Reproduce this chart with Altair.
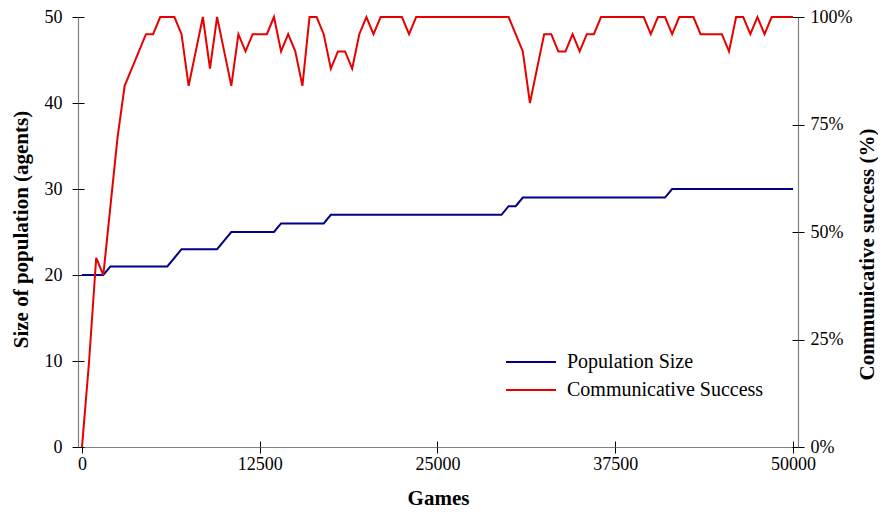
import altair as alt
import pandas as pd

# Games sampled every 500 games
games = list(range(0, 50001, 500))

population = (
    [20, 20, 20, 20]
    + [21, 21, 21, 21, 21, 21, 21, 21, 21]
    + [22]
    + [23, 23, 23, 23, 23, 23]
    + [24]
    + [25, 25, 25, 25, 25, 25, 25]
    + [26, 26, 26, 26, 26, 26, 26]
    + [27] * 25
    + [28, 28]
    + [29] * 21
    + [30] * 18
)

success = [
    0, 20, 44, 40, 56, 72, 84, 88, 92, 96,
    96, 100, 100, 100, 96, 84, 92, 100, 88, 100,
    92, 84, 96, 92, 96, 96, 96, 100, 92, 96,
    92, 84, 100, 100, 96, 88, 92, 92, 88, 96,
    100, 96, 100, 100, 100, 100, 96, 100, 100, 100,
    100, 100, 100, 100, 100, 100, 100, 100, 100, 100,
    100, 96, 92, 80, 88, 96, 96, 92, 92, 96,
    92, 96, 96, 100, 100, 100, 100, 100, 100, 100,
    96, 100, 100, 96, 100, 100, 100, 96, 96, 96,
    96, 92, 100, 100, 96, 100, 96, 100, 100, 100,
    100,
]

series_names = ["Population Size", "Communicative Success"]
series_colors = ["#000088", "#e60000"]
x_ticks = [0, 12500, 25000, 37500, 50000]
pop_ticks = [0, 10, 20, 30, 40, 50]
succ_ticks = [0, 25, 50, 75, 100]

df = pd.DataFrame({"games": games, "population": population, "success": success})

FONT = "Liberation Serif"

xscale = alt.Scale(domain=[-281, 50352], nice=False, zero=False)
pop_scale = alt.Scale(domain=[0, 50], nice=False, zero=True)
succ_scale = alt.Scale(domain=[0, 100], nice=False, zero=True)
color_scale = alt.Scale(domain=series_names, range=series_colors)

legend = alt.Legend(
    title=None, orient="none", legendX=427, legendY=331,
    symbolType="stroke", symbolSize=2500, symbolStrokeWidth=2,
    labelFont=FONT, labelFontSize=20, labelOffset=10, labelColor="black",
    clipHeight=28, rowPadding=0, padding=0, labelLimit=400,
)

base = alt.Chart(df)

pop_line = base.transform_calculate(series="'Population Size'").mark_line(
    strokeWidth=2
).encode(
    x=alt.X("games:Q", scale=xscale, axis=alt.Axis(
        orient="bottom", values=x_ticks, format="d", title="Games",
        tickSize=6, labelPadding=2, titleY=40, labelFlush=False, labelOverlap=False,
    )),
    y=alt.Y("population:Q", scale=pop_scale, axis=alt.Axis(
        orient="left", values=pop_ticks, title="Size of population (agents)",
        tickSize=6, labelPadding=10, titleAngle=270, titleX=-57, titleY=212,
        titleAlign="center", titleBaseline="middle", labelFlush=False, labelOverlap=False,
    )),
    color=alt.Color("series:N", scale=color_scale, legend=legend),
)

succ_line = base.transform_calculate(series="'Communicative Success'").mark_line(
    strokeWidth=2
).encode(
    x=alt.X("games:Q", scale=xscale, axis=alt.Axis(
        orient="bottom", offset=-6, values=x_ticks, tickSize=6,
        labels=False, domain=False, title=None,
    )),
    y=alt.Y("success:Q", scale=succ_scale, axis=alt.Axis(
        orient="right", values=succ_ticks, labelExpr="datum.value + '%'",
        title="Communicative success (%)", tickSize=6, labelPadding=6,
        titleAngle=270, titleX=69, titleY=237, titleAlign="center",
        titleBaseline="middle", labelFlush=False, labelOverlap=False,
    )),
    color=alt.Color("series:N", scale=color_scale, legend=legend),
)

left_inner = base.mark_line(opacity=0).encode(
    x=alt.X("games:Q", scale=xscale, axis=None),
    y=alt.Y("population:Q", scale=pop_scale, axis=alt.Axis(
        orient="left", offset=-6, values=pop_ticks, tickSize=6,
        labels=False, domain=False, title=None,
    )),
)

right_inner = base.mark_line(opacity=0).encode(
    x=alt.X("games:Q", scale=xscale, axis=None),
    y=alt.Y("success:Q", scale=succ_scale, axis=alt.Axis(
        orient="right", offset=-6, values=succ_ticks, tickSize=6,
        labels=False, domain=False, title=None,
    )),
)

chart = alt.layer(pop_line, succ_line, left_inner, right_inner).resolve_scale(
    y="independent"
).resolve_axis(
    x="independent", y="independent"
).properties(
    width=720, height=430,
    autosize=alt.AutoSizeParams(type="none"),
    padding={"left": 70, "top": 9, "right": 80, "bottom": 63},
).configure_view(
    stroke=None
).configure_axis(
    labelFont=FONT, labelFontSize=18, labelColor="black",
    titleFont=FONT, titleFontSize=21, titleFontWeight="bold", titleColor="black",
    domainColor="#808080", domainWidth=1.2, tickColor="black", tickWidth=1, grid=False,
)

chart.save("out.html", embed_options={"renderer": "svg", "actions": False})
